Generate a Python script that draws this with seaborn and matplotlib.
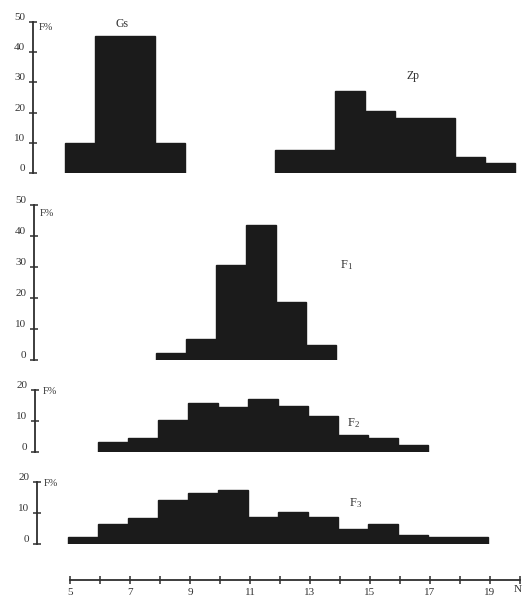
import numpy as np
import pandas as pd
import matplotlib
matplotlib.use("Agg")
import matplotlib.pyplot as plt
import matplotlib.transforms as mtransforms
import seaborn as sns

# ---------------- data (class boundaries and frequencies, %) ----------------
gs_edges = [5, 6, 8, 9]
gs_freq = [10, 45.4, 10]

zp_edges = [12, 14, 15, 16, 18, 19, 20]
zp_freq = [7.6, 27, 20.5, 18.2, 5.3, 3.3]

f1_edges = [8, 9, 10, 11, 12, 13, 14]
f1_freq = [2.2, 6.8, 30.6, 43.5, 18.7, 4.8]

f2_edges = [6, 7, 8, 9, 10, 11, 12, 13, 14, 15, 16, 17]
f2_freq = [3.3, 4.6, 10.3, 15.7, 14.4, 17.1, 14.8, 11.7, 5.5, 4.6, 2.3]

f3_edges = [5, 6, 7, 8, 9, 10, 11, 12, 13, 14, 15, 16, 17, 19]
f3_freq = [2.2, 6.4, 8.5, 14.2, 16.4, 17.4, 8.8, 10.2, 8.6, 4.8, 6.4, 2.9, 2.2]

top_yticks = [0, 10, 20, 30, 40, 50]
small_yticks = [0, 10, 20]
x_ticks = list(range(5, 21))
x_ticklabels = ["5", "7", "9", "11", "13", "15", "17", "19"]
y_unit_label = "F%"

# ---------------- figure ----------------
W, H = 522, 597
DPI = 100
sns.set_theme(style="white")
plt.rcParams["font.family"] = ["Liberation Serif", "DejaVu Serif"]
plt.rcParams["mathtext.fontset"] = "custom"
plt.rcParams["mathtext.rm"] = "Liberation Serif"

fig = plt.figure(figsize=(W / DPI, H / DPI), dpi=DPI)
fig.patch.set_facecolor("white")

BAR = "#1b1b1b"
AX = "#2e2e2e"
TXT = "#333333"
PX_PER_UNIT = 30.0


def px_axes(axis_x, y_top, y_bot, x5):
    left = axis_x / W
    width = (W - axis_x) / W
    bottom = 1 - y_bot / H
    height = (y_bot - y_top) / H
    ax = fig.add_axes([left, bottom, width, height])
    xmin = 5 - (x5 - axis_x) / PX_PER_UNIT
    xmax = 5 + (W - x5) / PX_PER_UNIT
    return ax, (xmin, xmax)


def hist(ax, edges, freq):
    edges = [float(e) for e in edges]
    centers = [(a + b) / 2 for a, b in zip(edges[:-1], edges[1:])]
    df = pd.DataFrame({"cls": centers, "freq": list(freq)})
    sns.histplot(data=df, x="cls", weights="freq", bins=edges, ax=ax,
                 color=BAR, alpha=1, edgecolor=BAR, linewidth=1.0)


def style_panel(ax, xlim, ymax, yticks):
    ax.set_xlim(*xlim)
    ax.set_ylim(0, ymax)
    ax.set_xlabel("")
    ax.set_ylabel("")
    ax.patch.set_alpha(0)
    for s in ["top", "right", "bottom"]:
        ax.spines[s].set_visible(False)
    ax.spines["left"].set_color(AX)
    ax.spines["left"].set_linewidth(1.3)
    ax.set_xticks([])
    ax.set_yticks(yticks)
    ax.set_yticklabels([str(t) for t in yticks])
    ax.tick_params(axis="y", direction="inout", length=6, width=1.1,
                   color=AX, left=True, pad=2.5, labelsize=8, labelcolor=TXT)
    off = mtransforms.ScaledTranslation(0, 4 / 72, fig.dpi_scale_trans)
    for lab in ax.get_yticklabels():
        lab.set_transform(lab.get_transform() + off)


def ftext(x, y, s, size=8, **kw):
    fig.text(x / W, 1 - y / H, s, fontsize=size, color=TXT,
             ha="center", va="center", **kw)


# top panel: Gs and Zp
ax0, xl0 = px_axes(33, 22, 173, 65)
hist(ax0, gs_edges, gs_freq)
hist(ax0, zp_edges, zp_freq)
style_panel(ax0, xl0, 50, top_yticks)
ftext(46, 28, y_unit_label, 7.5)
ftext(122, 24, "Gs", 8.5)
ftext(413, 76, "Zp", 8.5)

# F1
ax1, xl1 = px_axes(34, 205, 360, 66)
hist(ax1, f1_edges, f1_freq)
style_panel(ax1, xl1, 50, top_yticks)
ftext(47, 214, y_unit_label, 7.5)
ftext(346, 265, r"$\mathregular{F_1}$", 9)

# F2
ax2, xl2 = px_axes(35, 390, 452, 68)
hist(ax2, f2_edges, f2_freq)
style_panel(ax2, xl2, 20, small_yticks)
ftext(50, 391, y_unit_label, 7.5)
ftext(353, 423, r"$\mathregular{F_2}$", 9)

# F3
ax3, xl3 = px_axes(37, 482, 544, 68)
hist(ax3, f3_edges, f3_freq)
style_panel(ax3, xl3, 20, small_yticks)
ftext(51, 484, y_unit_label, 7.5)
ftext(356, 503, r"$\mathregular{F_3}$", 9)

# bottom class axis
axb = fig.add_axes([0, 1 - 580 / H, 1, 10 / H])
axb.set_xlim(5 - 70 / PX_PER_UNIT, 5 + (W - 70) / PX_PER_UNIT)
axb.patch.set_alpha(0)
for s in ["top", "right", "left"]:
    axb.spines[s].set_visible(False)
axb.spines["bottom"].set_bounds(5, 20)
axb.spines["bottom"].set_color(AX)
axb.spines["bottom"].set_linewidth(1.3)
axb.set_yticks([])
axb.set_xticks(x_ticks)
axb.set_xticklabels([str(t) if str(t) in x_ticklabels else "" for t in x_ticks])
axb.tick_params(axis="x", direction="inout", length=6, width=1.1, color=AX,
                bottom=True, pad=3, labelsize=8, labelcolor=TXT)
ftext(518, 590, "N", 8)

fig.savefig("out.png", dpi=DPI, facecolor="white")
